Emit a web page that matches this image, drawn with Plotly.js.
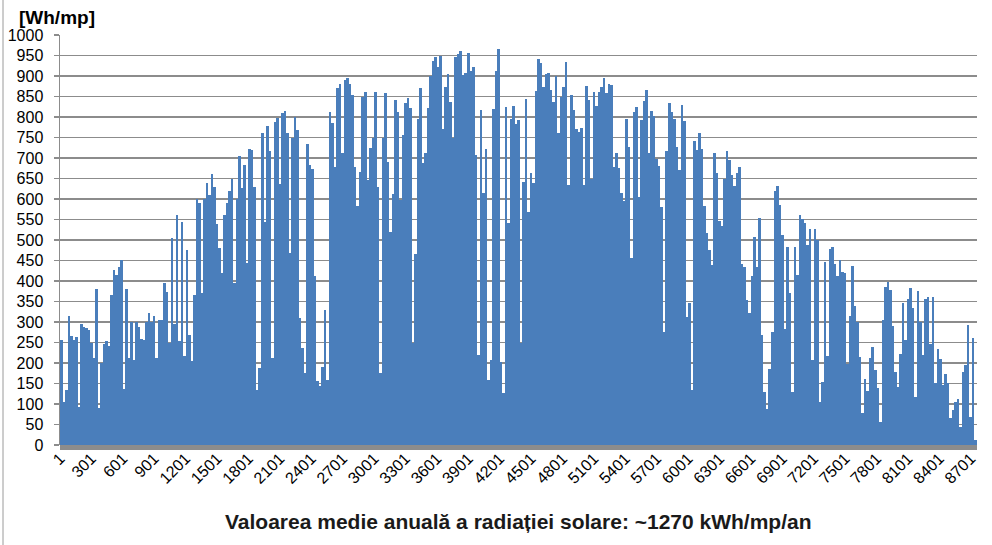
<!DOCTYPE html>
<html>
<head>
<meta charset="utf-8">
<script src="https://cdn.plot.ly/plotly-3.0.1.min.js"></script>
<style>
  html, body { margin: 0; padding: 0; background: #ffffff; }
  #chart { width: 992px; height: 545px; }
</style>
</head>
<body>
<div id="chart"></div>
<script>
// Daily peak of hourly solar radiation [Wh/mp], in day order
const peaksSeg1 = [257, 105, 135, 315, 265, 257, 263, 93, 296, 288, 285, 280, 249, 212, 380, 91, 200, 247, 253, 242, 366, 428, 415, 435, 451, 137, 380, 212, 299, 208, 299, 288, 258, 257, 301, 322, 301, 315, 212, 304, 304, 395, 374, 249, 505, 296, 560, 253, 545, 216, 475, 269, 204, 366];
const peaksSeg2 = [600, 590, 370, 600, 640, 610, 660, 630, 540, 480, 419, 560, 590, 620, 650, 396, 600, 705];
const peaksSeg3 = [626, 683, 443, 721, 720, 629, 134, 187, 760, 545, 777, 716, 212, 787, 797, 637, 809, 815, 762, 468, 748, 800, 769, 309, 236, 175, 735, 683, 673, 413, 155, 143, 191, 330, 159, 813, 785, 679, 870, 880, 712, 890, 895, 880, 854, 679, 583, 667, 848, 860, 647, 724, 748, 860, 629, 175, 748, 858, 691, 520, 613, 842, 813, 598, 756, 835, 846, 822, 248, 466, 795, 870, 687, 712, 822, 900];
const peaksSeg4 = [937, 947, 921, 949, 770, 872, 906, 837, 748, 946, 954, 962, 902, 908, 957, 913, 923, 707, 220, 817, 614, 721, 159, 207, 819, 913, 967, 203, 128, 824, 542, 794, 827, 783, 793, 248, 642, 843, 569, 663, 638, 864, 941, 931, 874, 905, 908, 866, 837, 900, 760, 850, 874, 935, 634, 854, 817, 770, 764, 772, 634, 876, 841, 650, 862, 827, 862, 872, 894, 859, 880, 878, 677, 713];
const peaksSeg5 = [675, 614, 594, 794, 728, 455, 811, 825, 604, 793, 840, 867, 713, 815, 802, 697, 680, 581, 276, 718, 833, 813, 794, 726, 671, 829, 791, 311, 346, 134, 742, 720, 762, 721, 583, 516, 476, 439, 713, 663, 547, 534, 650, 718, 695, 659, 632, 663, 679, 441, 435, 354, 321, 411, 508, 435, 553, 268, 130, 87, 185, 276, 620, 632, 585, 512, 282, 482, 370, 130, 482, 415, 561];
const peaksSeg6 = [552, 542, 487, 526, 207, 526, 501, 105, 154, 447, 217, 477, 482, 441, 412, 452, 422, 420, 197, 314, 436, 339, 300, 215, 77, 162, 132, 211, 239, 184, 138, 57, 306, 386, 398, 379, 290, 178, 142, 222, 347, 257, 357, 384, 335, 116, 376, 300, 219, 355, 360, 246, 360, 152, 235, 209, 146, 173, 152, 65, 85, 105, 111, 44, 178, 195, 292, 69, 262, 12];

const hourTickVals = [1, 301, 601, 901, 1201, 1501, 1801, 2101, 2401, 2701, 3001, 3301, 3601, 3901, 4201, 4501, 4801, 5101, 5401, 5701, 6001, 6301, 6601, 6901, 7201, 7501, 7801, 8101, 8401, 8701];
const hourTickText = ['1', '301', '601', '901', '1201', '1501', '1801', '2101', '2401', '2701', '3001', '3301', '3601', '3901', '4201', '4501', '4801', '5101', '5401', '5701', '6001', '6301', '6601', '6901', '7201', '7501', '7801', '8101', '8401', '8701'];

const yTitle = '[Wh/mp]';
const xTitle = 'Valoarea medie anuală a radiației solare: ~1270 kWh/mp/an';

const dailyPeaks = [].concat(peaksSeg1, peaksSeg2, peaksSeg3, peaksSeg4, peaksSeg5, peaksSeg6);
const hoursPerDay = 24;
const dayCentreHour = dailyPeaks.map((v, i) => i * hoursPerDay + 12.5);

const W = 992, H = 545;
const L = 60, R = 15, T = 35, B = 100;
const plotW = W - L - R, plotH = H - T - B;
const px2x = p => (p - L) / plotW;
const py2y = p => (H - B - p) / plotH;

const trace = {
  type: 'bar',
  x: dayCentreHour,
  y: dailyPeaks,
  width: hoursPerDay,
  marker: { color: '#4a7ebb', line: { width: 0 } },
  hoverinfo: 'skip'
};

const layout = {
  width: W, height: H,
  margin: { l: L, r: R, t: T, b: B, pad: 0 },
  paper_bgcolor: '#ffffff',
  plot_bgcolor: '#ffffff',
  showlegend: false,
  bargap: 0,
  font: { family: 'Liberation Sans, Arial, sans-serif', size: 16, color: '#000000' },
  xaxis: {
    type: 'linear',
    range: [0.5, 8760.5],
    tickmode: 'array',
    tickvals: hourTickVals,
    ticktext: hourTickText,
    tickangle: -45,
    ticks: '',
    showgrid: false,
    zeroline: false,
    showline: false,
    tickfont: { size: 16, color: '#000000' },
    fixedrange: true
  },
  yaxis: {
    range: [0, 1000],
    tickmode: 'linear',
    tick0: 0,
    dtick: 50,
    ticks: 'outside',
    ticklen: 5,
    tickwidth: 1.3,
    tickcolor: '#8c8c8c',
    ticklabelstandoff: 7,
    showgrid: true,
    gridcolor: '#8c8c8c',
    gridwidth: 1.4,
    zeroline: false,
    showline: true,
    linecolor: '#8c8c8c',
    linewidth: 1.5,
    tickfont: { size: 16, color: '#000000' },
    fixedrange: true
  },
  shapes: [
    { type: 'rect', xref: 'paper', yref: 'paper', x0: 0, x1: 1, y0: py2y(450), y1: 0,
      fillcolor: '#8c8c8c', line: { width: 0 }, layer: 'above' },
    { type: 'line', xref: 'paper', yref: 'paper', x0: px2x(3), x1: px2x(3), y0: py2y(545), y1: py2y(0),
      line: { color: '#9a9a9a', width: 1 } }
  ],
  annotations: [
    { text: '<b>' + yTitle + '</b>', xref: 'paper', yref: 'paper', x: px2x(17), y: py2y(18),
      xanchor: 'left', yanchor: 'middle', showarrow: false, font: { size: 19, color: '#000000' } },
    { text: '<b>' + xTitle + '</b>', xref: 'paper', yref: 'paper', x: px2x(518), y: py2y(521),
      xanchor: 'center', yanchor: 'middle', showarrow: false, font: { size: 21, color: '#1a1a1a' } }
  ]
};

Plotly.newPlot('chart', [trace], layout, { displayModeBar: false, staticPlot: true });
</script>
</body>
</html>
